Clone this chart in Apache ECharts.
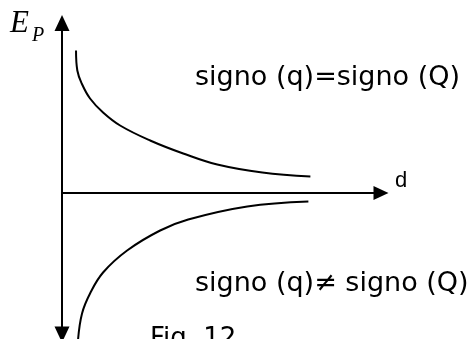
<!DOCTYPE html>
<html><head><meta charset="utf-8">
<script src="https://cdn.jsdelivr.net/npm/echarts@6/dist/echarts.min.js"></script>
<style>html,body{margin:0;padding:0;background:#fff}#c{width:471px;height:339px}</style>
</head><body><div id="c"></div>
<script>
// distance d (arbitrary units) and potential energy Ep (arbitrary units)
const upperD  = [0.14, 0.153, 0.197, 0.28, 0.41, 0.58, 0.88, 1.21, 1.55, 2.00, 2.48];
const upperEp = [1.425, 1.225, 1.095, 0.945, 0.805, 0.675, 0.525, 0.395, 0.285, 0.205, 0.165];
const lowerD  = [0.16, 0.20, 0.28, 0.41, 0.65, 0.98, 1.26, 1.85, 2.46];
const lowerEp = [-1.47, -1.205, -1.005, -0.795, -0.575, -0.375, -0.265, -0.135, -0.085];
const labelSame = 'signo (q)=signo (Q)';
const labelDiff = 'signo (q)\u2260 signo (Q)';
const xName = 'd';
const yName = 'E';
const ySub = 'P';
const caption = 'Fig. 12';

const chart = echarts.init(document.getElementById('c'), null, {renderer: 'canvas'});
const pts = (xs, ys) => xs.map((x, i) => [x, ys[i]]);
const lineStyle = {color: '#000', width: 2};
const txt = (text, left, top, size, family, style) => ({
  type: 'text', left: left, top: top,
  style: {text: text, fontSize: size, fontFamily: family, fontStyle: style || 'normal', fill: '#000'}
});
chart.setOption({
  animation: false,
  backgroundColor: '#fff',
  grid: {left: 62, right: 90, top: 23, bottom: 4.5, containLabel: false},
  xAxis: {
    type: 'value', min: 0, max: 3.185,
    axisLine: {onZero: true, lineStyle: {color: '#000', width: 2}, symbol: ['none', 'triangle'], symbolSize: [14, 15]},
    axisTick: {show: false}, axisLabel: {show: false}, splitLine: {show: false}
  },
  yAxis: {
    type: 'value', min: -1.415, max: 1.70,
    axisLine: {onZero: false, lineStyle: {color: '#000', width: 2}, symbol: ['triangle', 'triangle'], symbolSize: [15, 16]},
    axisTick: {show: false}, axisLabel: {show: false}, splitLine: {show: false}
  },
  series: [
    {type: 'line', data: pts(upperD, upperEp), smooth: 0.4, showSymbol: false, lineStyle: lineStyle, clip: false},
    {type: 'line', data: pts(lowerD, lowerEp), smooth: 0.4, showSymbol: false, lineStyle: lineStyle, clip: false}
  ],
  graphic: [
    txt(labelSame, 195, 64, 27, 'DejaVu Sans'),
    txt(labelDiff, 195, 270, 27, 'DejaVu Sans'),
    txt(xName, 395, 170, 22, 'Liberation Sans'),
    txt(yName, 10, 8, 31, 'Liberation Serif', 'italic'),
    txt(ySub, 32, 26, 20, 'Liberation Serif', 'italic'),
    txt(caption, 150, 326, 26, 'DejaVu Sans')
  ]
});
</script></body></html>
